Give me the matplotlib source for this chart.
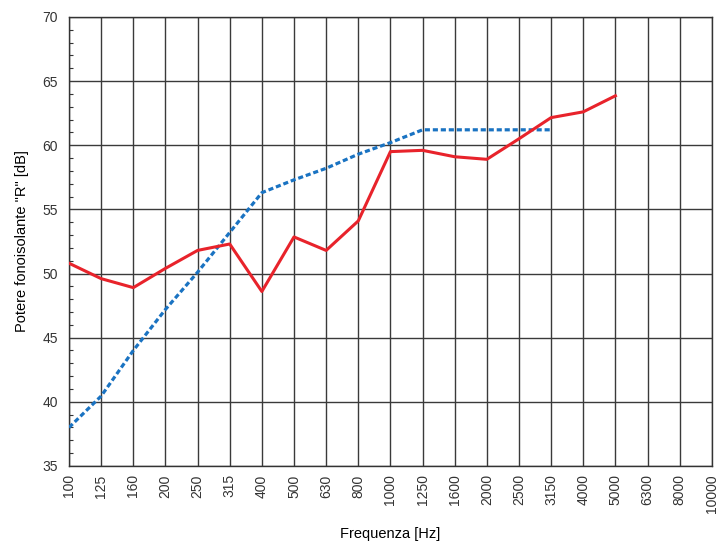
import matplotlib.pyplot as plt
from matplotlib.ticker import MultipleLocator

plt.rcParams['font.family'] = ['Liberation Sans', 'DejaVu Sans']

# bande di terzo d'ottava
freq = ['100', '125', '160', '200', '250', '315', '400', '500', '630', '800',
        '1000', '1250', '1600', '2000', '2500', '3150', '4000', '5000',
        '6300', '8000', '10000']

# potere fonoisolante misurato (100 - 5000 Hz)
r_misurato = [50.8, 49.6, 48.9, 50.4, 51.8, 52.3, 48.6, 52.85, 51.8, 54.1,
              59.5, 59.6, 59.1, 58.9, 60.5, 62.15, 62.6, 63.85]

# curva di riferimento (100 - 3150 Hz)
r_riferimento = [38.0, 40.45, 44.0, 47.2, 50.1, 53.2, 56.3, 57.3, 58.2, 59.3,
                 60.2, 61.2, 61.2, 61.2, 61.2, 61.2]

fig = plt.figure(figsize=(7.19, 5.45), dpi=100)
ax = fig.add_axes([0.096, 0.145, 0.894, 0.824])

x = list(range(len(freq)))
ax.plot(x[:len(r_riferimento)], r_riferimento, color='#1a73c2', lw=2.3,
        linestyle=(0, (1.6, 0.9)), zorder=3)
ax.plot(x[:len(r_misurato)], r_misurato, color='#e8232b', lw=2.2, zorder=4)

ax.set_xlim(0, len(freq) - 1)
ax.set_ylim(35, 70)
ax.set_xticks(x)
ax.set_xticklabels(freq, rotation=90)
ax.yaxis.set_major_locator(MultipleLocator(5))
ax.yaxis.set_minor_locator(MultipleLocator(1))

ax.grid(True, which='major', color='#3a3a3a', lw=1.0)
ax.tick_params(axis='x', length=0, pad=6, labelsize=10, colors='#333333')
ax.tick_params(axis='y', which='major', length=0, pad=8, labelsize=10, colors='#333333')
ax.tick_params(axis='y', which='minor', direction='in', length=3, width=0.8, color='#333333')
for s in ax.spines.values():
    s.set_color('#333333')
    s.set_linewidth(1.0)

ax.set_xlabel('Frequenza [Hz]', fontsize=10.5, labelpad=10)
ax.set_ylabel('Potere fonoisolante "R" [dB]', fontsize=10.5, labelpad=10)

fig.savefig('out.png', dpi=100)
